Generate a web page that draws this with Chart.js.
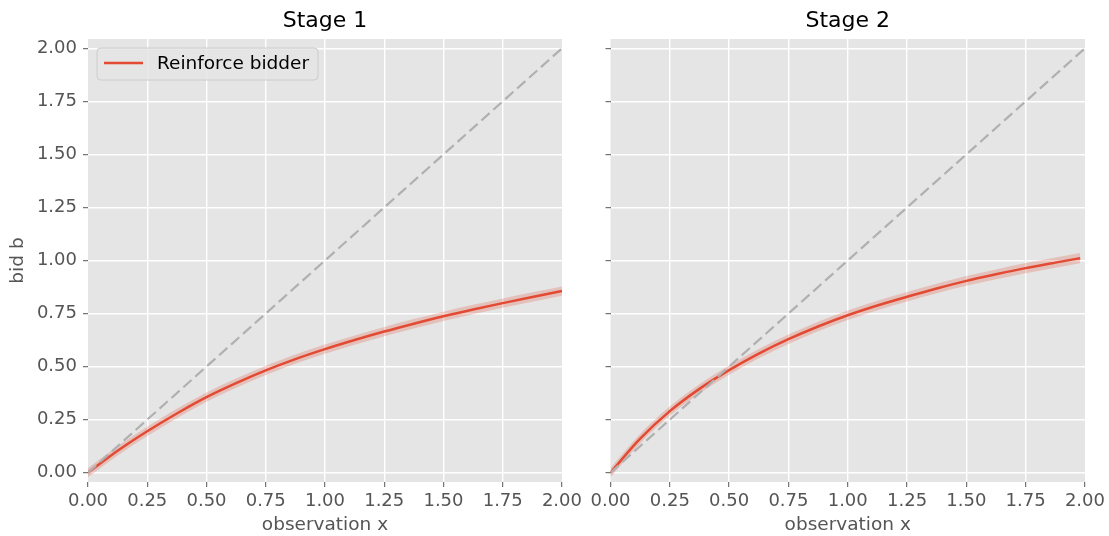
<!DOCTYPE html>
<html lang="en">
<head>
    <meta charset="UTF-8">
    <title>Reinforce bidder: Stage 1 and Stage 2</title>
    <script src="https://cdn.jsdelivr.net/npm/chart.js"></script>
    <style>
        body { margin: 0; background: #ffffff; }
        canvas { position: absolute; top: 0; }
        #stage1Chart { left: 0; }
        #stage2Chart { left: 586px; }
    </style>
</head>
<body>
    <canvas id="stage1Chart" width="586" height="536"></canvas>
    <canvas id="stage2Chart" width="523" height="536"></canvas>
    <script>
        // observation x and bid b
        const stage1X = [0, 0.125, 0.25, 0.375, 0.5, 0.625, 0.75, 0.875, 1.0, 1.125, 1.25, 1.375, 1.5, 1.625, 1.75, 1.875, 2.0];
        const stage1Bid = [0, 0.103, 0.195, 0.279, 0.356, 0.422, 0.482, 0.535, 0.582, 0.625, 0.665, 0.702, 0.737, 0.769, 0.799, 0.828, 0.856];
        const stage1Spread = [0.022, 0.022, 0.022, 0.022, 0.022, 0.022, 0.022, 0.022, 0.022, 0.022, 0.022, 0.022, 0.022, 0.022, 0.022, 0.022, 0.022];

        const stage2X = [0, 0.125, 0.25, 0.375, 0.5, 0.625, 0.75, 0.875, 1.0, 1.125, 1.25, 1.375, 1.5, 1.625, 1.75, 1.875, 1.98];
        const stage2Bid = [0, 0.16, 0.29, 0.395, 0.483, 0.561, 0.629, 0.689, 0.742, 0.788, 0.829, 0.868, 0.904, 0.935, 0.964, 0.99, 1.011];
        const stage2Spread = [0.022, 0.022, 0.022, 0.022, 0.022, 0.022, 0.022, 0.022, 0.022, 0.022, 0.022, 0.022, 0.023, 0.023, 0.024, 0.024, 0.024];

        // truthful bidding reference line
        const diagonalX = [0, 2];
        const diagonalY = [0, 2];

        const xTicks = [0, 0.25, 0.5, 0.75, 1.0, 1.25, 1.5, 1.75, 2.0];
        const yTicks = [0, 0.25, 0.5, 0.75, 1.0, 1.25, 1.5, 1.75, 2.0];

        const RED = '#E24A33';
        const GREY_TEXT = '#555555';

        Chart.defaults.font.family = "'DejaVu Sans', sans-serif";

        const plotBackground = {
            id: 'plotBackground',
            beforeDraw(chart) {
                const { ctx, chartArea: a } = chart;
                ctx.save();
                ctx.fillStyle = '#e5e5e5';
                ctx.fillRect(a.left, a.top, a.width, a.height);
                ctx.restore();
            }
        };

        // matplotlib style legend box inside the plot, upper left
        const boxLegend = {
            id: 'boxLegend',
            afterDraw(chart) {
                const ds = chart.data.datasets.find(d => d.label === 'Reinforce bidder');
                const { ctx, chartArea: a } = chart;
                const x = a.left + 9, y = a.top + 9, w = 221, h = 32;
                ctx.save();
                ctx.beginPath();
                ctx.roundRect(x, y, w, h, 4);
                ctx.fillStyle = 'rgba(229,229,229,0.8)';
                ctx.fill();
                ctx.strokeStyle = '#cccccc';
                ctx.lineWidth = 1;
                ctx.stroke();
                ctx.beginPath();
                ctx.moveTo(x + 7, y + 15);
                ctx.lineTo(x + 46, y + 15);
                ctx.strokeStyle = ds.borderColor;
                ctx.lineWidth = ds.borderWidth;
                ctx.stroke();
                ctx.fillStyle = '#000000';
                ctx.font = "18.5px 'DejaVu Sans', sans-serif";
                ctx.textBaseline = 'middle';
                ctx.fillText(ds.label, x + 60, y + 16);
                ctx.restore();
            }
        };

        function toPoints(xs, ys) {
            return xs.map((x, i) => ({ x: x, y: ys[i] }));
        }

        function buildDatasets(xs, bids, spread) {
            return [
                {
                    label: 'lower',
                    data: toPoints(xs, bids.map((b, i) => b - spread[i])),
                    borderWidth: 0,
                    pointRadius: 0,
                    cubicInterpolationMode: 'monotone',
                    fill: false,
                    order: 3
                },
                {
                    label: 'upper',
                    data: toPoints(xs, bids.map((b, i) => b + spread[i])),
                    borderWidth: 0,
                    pointRadius: 0,
                    cubicInterpolationMode: 'monotone',
                    fill: '-1',
                    backgroundColor: 'rgba(226,74,51,0.24)',
                    order: 2
                },
                {
                    label: 'Reinforce bidder',
                    data: toPoints(xs, bids),
                    borderColor: RED,
                    borderWidth: 2.5,
                    pointRadius: 0,
                    cubicInterpolationMode: 'monotone',
                    fill: false,
                    order: 1
                },
                {
                    label: 'diagonal',
                    data: toPoints(diagonalX, diagonalY),
                    borderColor: '#b0b0b0',
                    borderWidth: 2.2,
                    borderDash: [11, 5],
                    pointRadius: 0,
                    fill: false,
                    order: 0
                }
            ];
        }

        function buildOptions(title, showYLabels, yWidth) {
            return {
                responsive: false,
                animation: false,
                devicePixelRatio: 1,
                layout: { padding: { left: 0, right: 24, top: 0, bottom: 0 } },
                plugins: {
                    legend: { display: false },
                    tooltip: { enabled: false },
                    title: {
                        display: true,
                        text: title,
                        fullSize: false,
                        color: '#000000',
                        font: { size: 22, weight: 'normal' },
                        padding: { top: 8, bottom: 4.6 }
                    }
                },
                scales: {
                    x: {
                        type: 'linear',
                        min: 0,
                        max: 2,
                        afterBuildTicks: s => { s.ticks = xTicks.map(v => ({ value: v })); },
                        afterFit: s => { s.height = 54; },
                        border: { display: false },
                        grid: {
                            color: c => (c.tick && (c.tick.value === 0 || c.tick.value === 2)) ? 'rgba(0,0,0,0)' : '#ffffff',
                            lineWidth: 1.4,
                            tickColor: GREY_TEXT,
                            tickLength: 5,
                            tickWidth: 1
                        },
                        ticks: {
                            color: GREY_TEXT,
                            font: { size: 18 },
                            padding: 4,
                            maxRotation: 0,
                            autoSkip: false,
                            callback: v => v.toFixed(2)
                        },
                        title: {
                            display: true,
                            text: 'observation x',
                            color: GREY_TEXT,
                            font: { size: 18.5 },
                            padding: { top: 0, bottom: 0 }
                        }
                    },
                    y: {
                        type: 'linear',
                        min: -0.044,
                        max: 2.044,
                        afterBuildTicks: s => { s.ticks = yTicks.map(v => ({ value: v })); },
                        afterFit: s => { s.width = yWidth; },
                        border: { display: false },
                        grid: {
                            color: '#ffffff',
                            lineWidth: 1.4,
                            tickColor: GREY_TEXT,
                            tickLength: 5,
                            tickWidth: 1
                        },
                        ticks: {
                            color: GREY_TEXT,
                            font: { size: 18 },
                            padding: 6,
                            autoSkip: false,
                            callback: v => showYLabels ? v.toFixed(2) : ''
                        },
                        title: {
                            display: showYLabels,
                            text: 'bid b',
                            color: GREY_TEXT,
                            font: { size: 18.5 },
                            padding: { top: 7, bottom: 0 }
                        }
                    }
                }
            };
        }

        new Chart(document.getElementById('stage1Chart').getContext('2d'), {
            type: 'line',
            data: { datasets: buildDatasets(stage1X, stage1Bid, stage1Spread) },
            options: buildOptions('Stage 1', true, 88),
            plugins: [plotBackground, boxLegend]
        });

        new Chart(document.getElementById('stage2Chart').getContext('2d'), {
            type: 'line',
            data: { datasets: buildDatasets(stage2X, stage2Bid, stage2Spread) },
            options: buildOptions('Stage 2', false, 24.5),
            plugins: [plotBackground]
        });
    </script>
</body>
</html>
